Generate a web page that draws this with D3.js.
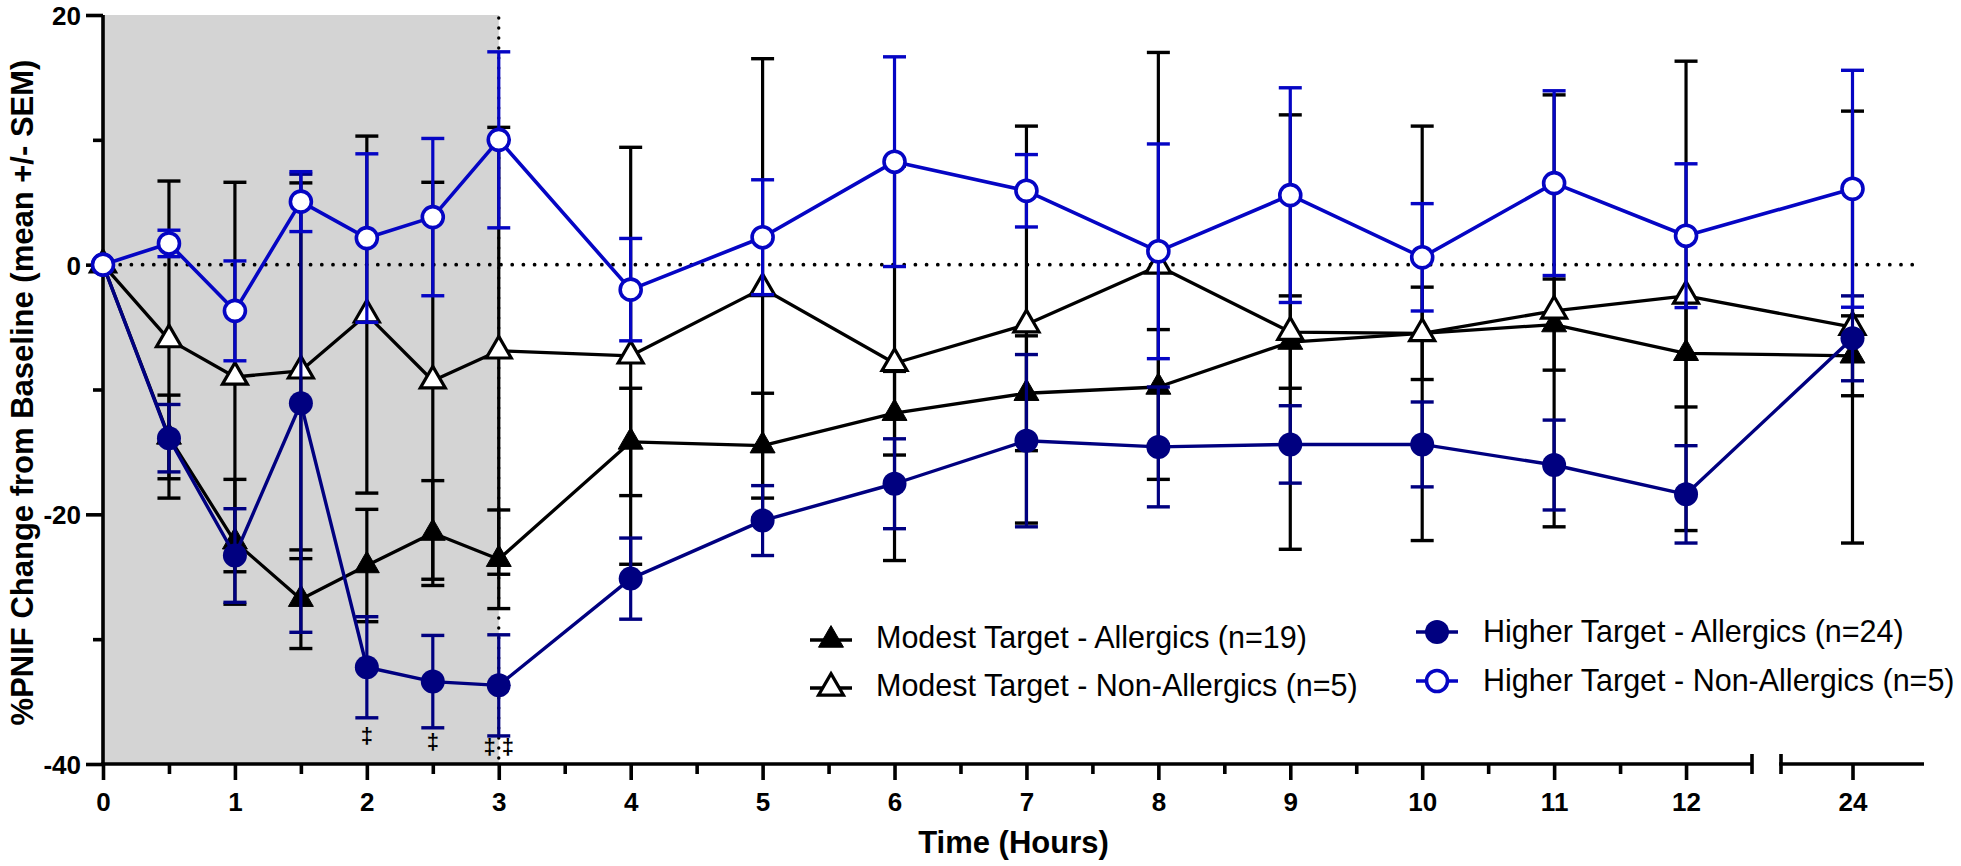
<!DOCTYPE html>
<html>
<head>
<meta charset="utf-8">
<script src="https://cdn.jsdelivr.net/npm/d3@7"></script>
<style>
  html, body { margin: 0; padding: 0; background: #fff; }
  svg { display: block; font-family: "Liberation Sans", Arial, sans-serif; }
</style>
</head>
<body>
<svg id="chart" width="1961" height="866"></svg>
<script>
// ---------------- DATA ----------------
const times = [0, 0.5, 1, 1.5, 2, 2.5, 3, 4, 5, 6, 7, 8, 9, 10, 11, 12, 24];

const modestAllergicMean = [0, -13.8, -22.2, -26.8, -24.1, -21.5, -23.6, -14.2, -14.5, -11.9, -10.3, -9.8, -6.2, -5.5, -4.8, -7.1, -7.3];
const modestAllergicSem  = [0, 3.35, 5.0, 3.95, 4.5, 4.2, 3.95, 4.3, 4.2, 3.35, 4.6, 4.6, 3.7, 3.7, 3.65, 4.3, 3.2];

const modestNonMean = [0, -6.0, -9.0, -8.5, -4.0, -9.3, -6.9, -7.3, -1.9, -7.9, -4.8, -0.1, -5.4, -5.5, -3.7, -2.5, -5.0];
const modestNonSem  = [0, 12.7, 15.6, 15.05, 14.3, 15.9, 17.9, 16.7, 18.4, 15.8, 15.9, 17.1, 17.4, 16.6, 17.3, 18.8, 17.3];

const higherAllergicMean = [0, -13.9, -23.3, -11.1, -32.25, -33.4, -33.7, -25.15, -20.5, -17.55, -14.1, -14.6, -14.4, -14.4, -16.05, -18.4, -5.9];
const higherAllergicSem  = [0, 2.7, 3.75, 18.35, 4.05, 3.7, 4.05, 3.25, 2.8, 3.6, 6.9, 4.8, 3.1, 3.4, 3.6, 3.9, 3.4];

const higherNonMean = [0, 1.7, -3.7, 5.05, 2.13, 3.81, 10.0, -2.0, 2.2, 8.25, 5.92, 1.07, 5.57, 0.59, 6.53, 2.32, 6.08];
const higherNonSem  = [0, 1.06, 4.0, 2.4, 6.75, 6.3, 7.05, 4.1, 4.6, 8.4, 2.9, 8.6, 8.6, 4.3, 7.4, 5.76, 9.49];

const seriesNames = [
  "Modest Target - Allergics (n=19)",
  "Modest Target - Non-Allergics (n=5)",
  "Higher Target - Allergics (n=24)",
  "Higher Target - Non-Allergics (n=5)"
];

const xMajorTicks = [0, 1, 2, 3, 4, 5, 6, 7, 8, 9, 10, 11, 12, 24];
const xMinorTicks = [0.5, 1.5, 2.5, 3.5, 4.5, 5.5, 6.5, 7.5, 8.5, 9.5, 10.5, 11.5];
const yMajorTicks = [20, 0, -20, -40];
const yMinorTicks = [10, -10, -30];

const shadeRange = [0, 3];           // shaded exposure period (hours)
const annX = [2, 2.5, 3];
const annText = ["\u2021", "\u2021", "\u2021 \u2021"];
const annY = [-37.8, -38.3, -38.7];

const xTitle = "Time (Hours)";
const yTitle = "%PNIF Change from Baseline (mean +/- SEM)";

// ---------------- SCALES ----------------
const svg = d3.select("#chart");
const x = d3.scaleLinear().domain([0, 12.5, 23.5, 24.5]).range([103, 1752, 1781, 1924]);
const y = d3.scaleLinear().domain([-40, 20]).range([764, 15]);

const BLACK = "#000000", NAVY = "#000080", BLUE = "#0505c4";
const FONT = "'Liberation Sans', Arial, sans-serif";

// shaded region
svg.append("rect")
  .attr("x", x(shadeRange[0])).attr("y", y(20))
  .attr("width", x(shadeRange[1]) - x(shadeRange[0]))
  .attr("height", y(-40) - y(20))
  .attr("fill", "#d4d4d4");

// dotted reference lines
svg.append("line")
  .attr("x1", x(0) + 6).attr("x2", x(24.45)).attr("y1", y(0)).attr("y2", y(0))
  .attr("stroke", "#000").attr("stroke-width", 3.8)
  .attr("stroke-linecap", "round").attr("stroke-dasharray", "0 11.2");
svg.append("line")
  .attr("x1", x(3)).attr("x2", x(3)).attr("y1", y(20) + 3).attr("y2", y(-40))
  .attr("stroke", "#000").attr("stroke-width", 3.4)
  .attr("stroke-linecap", "round").attr("stroke-dasharray", "0 10");

// ---------------- AXES ----------------
const AXW = 3.6;
const fmt = d => String(d);
// y axis
const yAxisG = svg.append("g").attr("transform", `translate(${x(0)},0)`)
  .call(d3.axisLeft(y).tickValues(yMajorTicks).tickSize(17).tickSizeOuter(0).tickFormat(fmt));
const yMinorG = svg.append("g").attr("transform", `translate(${x(0)},0)`)
  .call(d3.axisLeft(y).tickValues(yMinorTicks).tickSize(10).tickFormat(""));
yMinorG.select(".domain").remove();
yAxisG.select(".domain").remove();
svg.append("line").attr("x1", x(0)).attr("x2", x(0)).attr("y1", y(20)).attr("y2", y(-40) + AXW / 2)
  .attr("stroke", "#000").attr("stroke-width", AXW);

// x axis
const xAxisG = svg.append("g").attr("transform", `translate(0,${y(-40)})`)
  .call(d3.axisBottom(x).tickValues(xMajorTicks).tickSize(16).tickSizeOuter(0).tickFormat(fmt));
const xMinorG = svg.append("g").attr("transform", `translate(0,${y(-40)})`)
  .call(d3.axisBottom(x).tickValues(xMinorTicks).tickSize(10).tickFormat(""));
xAxisG.select(".domain").remove();
xMinorG.select(".domain").remove();
// broken axis segments
const segs = [[0, 12.5], [23.5, 24.5]];
segs.forEach(([a, b]) => {
  svg.append("line").attr("x1", x(a) - AXW / 2).attr("x2", x(b)).attr("y1", y(-40)).attr("y2", y(-40))
    .attr("stroke", "#000").attr("stroke-width", AXW);
});
[12.5, 23.5].forEach(v => {
  svg.append("line").attr("x1", x(v)).attr("x2", x(v)).attr("y1", y(-40) - 10).attr("y2", y(-40) + 10)
    .attr("stroke", "#000").attr("stroke-width", AXW);
});

[yAxisG, yMinorG, xAxisG, xMinorG].forEach(g => {
  g.selectAll(".tick line").attr("stroke", "#000").attr("stroke-width", AXW);
  g.selectAll(".tick text").attr("fill", "#000")
    .style("font-family", FONT).style("font-size", "26px").style("font-weight", "bold");
});
yAxisG.selectAll(".tick text").attr("x", -22).attr("dy", "0.36em");
xAxisG.selectAll(".tick text").attr("y", 29).attr("dy", "0.71em");

// axis titles
svg.append("text").attr("x", (x(0) + x(24.5)) / 2).attr("y", 853)
  .attr("text-anchor", "middle").style("font-family", FONT)
  .style("font-size", "31px").style("font-weight", "bold").text(xTitle);
svg.append("text").attr("transform", `translate(33,${(y(20) + y(-40)) / 2 + 3}) rotate(-90)`)
  .attr("text-anchor", "middle").style("font-family", FONT)
  .style("font-size", "31px").style("font-weight", "bold").text(yTitle);

// ---------------- SERIES ----------------
const series = [
  { name: seriesNames[0], mean: modestAllergicMean, sem: modestAllergicSem, color: BLACK, shape: "tri", fill: BLACK, lw: 3.3 },
  { name: seriesNames[1], mean: modestNonMean, sem: modestNonSem, color: BLACK, shape: "tri", fill: "#fff", lw: 3.3 },
  { name: seriesNames[2], mean: higherAllergicMean, sem: higherAllergicSem, color: NAVY, shape: "circ", fill: NAVY, lw: 3.4 },
  { name: seriesNames[3], mean: higherNonMean, sem: higherNonSem, color: BLUE, shape: "circ", fill: "#fff", lw: 3.6 }
];

const triPath = d3.symbol().type(d3.symbolTriangle).size(270)();

function drawMarker(g, s, cx, cy) {
  if (s.shape === "tri") {
    g.append("path").attr("d", triPath).attr("transform", `translate(${cx},${cy})`)
      .attr("fill", s.fill).attr("stroke", s.color)
      .attr("stroke-width", s.fill === "#fff" ? 3.2 : 1).attr("stroke-linejoin", "miter");
  } else {
    const open = s.fill === "#fff";
    g.append("circle").attr("cx", cx).attr("cy", cy).attr("r", open ? 10.5 : 12)
      .attr("fill", s.fill).attr("stroke", s.color).attr("stroke-width", open ? 3.6 : 0);
  }
}

const line = d3.line().x(d => x(d.t)).y(d => y(d.m));

series.forEach(s => {
  const pts = times.map((t, i) => ({ t, m: s.mean[i], e: s.sem[i] }));
  const g = svg.append("g");
  // error bars
  pts.filter(d => d.e > 0).forEach(d => {
    const cx = x(d.t), y1 = y(d.m + d.e), y2 = y(d.m - d.e);
    g.append("line").attr("x1", cx).attr("x2", cx).attr("y1", y1).attr("y2", y2)
      .attr("stroke", s.color).attr("stroke-width", 3.2);
    [y1, y2].forEach(yy => g.append("line").attr("x1", cx - 11.5).attr("x2", cx + 11.5)
      .attr("y1", yy).attr("y2", yy).attr("stroke", s.color).attr("stroke-width", 3.4));
  });
  g.append("path").datum(pts).attr("d", line).attr("fill", "none")
    .attr("stroke", s.color).attr("stroke-width", s.lw).attr("stroke-linejoin", "round");
  pts.forEach(d => drawMarker(g, s, x(d.t), y(d.m)));
});

// significance annotations
annX.forEach((t, i) => {
  svg.append("text").attr("x", x(t)).attr("y", y(annY[i])).attr("dy", "0.3em")
    .attr("text-anchor", "middle").style("font-family", FONT)
    .style("font-size", "22px").style("font-weight", "bold").text(annText[i]);
});

// ---------------- LEGEND ----------------
const legendPos = [
  { sx: 831, sy: 640, tx: 876, ty: 648, half: 21 },
  { sx: 831, sy: 688, tx: 876, ty: 696, half: 21 },
  { sx: 1437, sy: 632, tx: 1483, ty: 642, half: 21 },
  { sx: 1437, sy: 681, tx: 1483, ty: 691, half: 21 }
];
series.forEach((s, i) => {
  const p = legendPos[i];
  const g = svg.append("g");
  g.append("line").attr("x1", p.sx - p.half).attr("x2", p.sx + p.half).attr("y1", p.sy).attr("y2", p.sy)
    .attr("stroke", s.color).attr("stroke-width", s.lw);
  drawMarker(g, s, p.sx, p.sy);
  g.append("text").attr("x", p.tx).attr("y", p.ty).style("font-family", FONT)
    .style("font-size", "30.5px").attr("fill", "#000").text(s.name);
});
</script>
</body>
</html>
